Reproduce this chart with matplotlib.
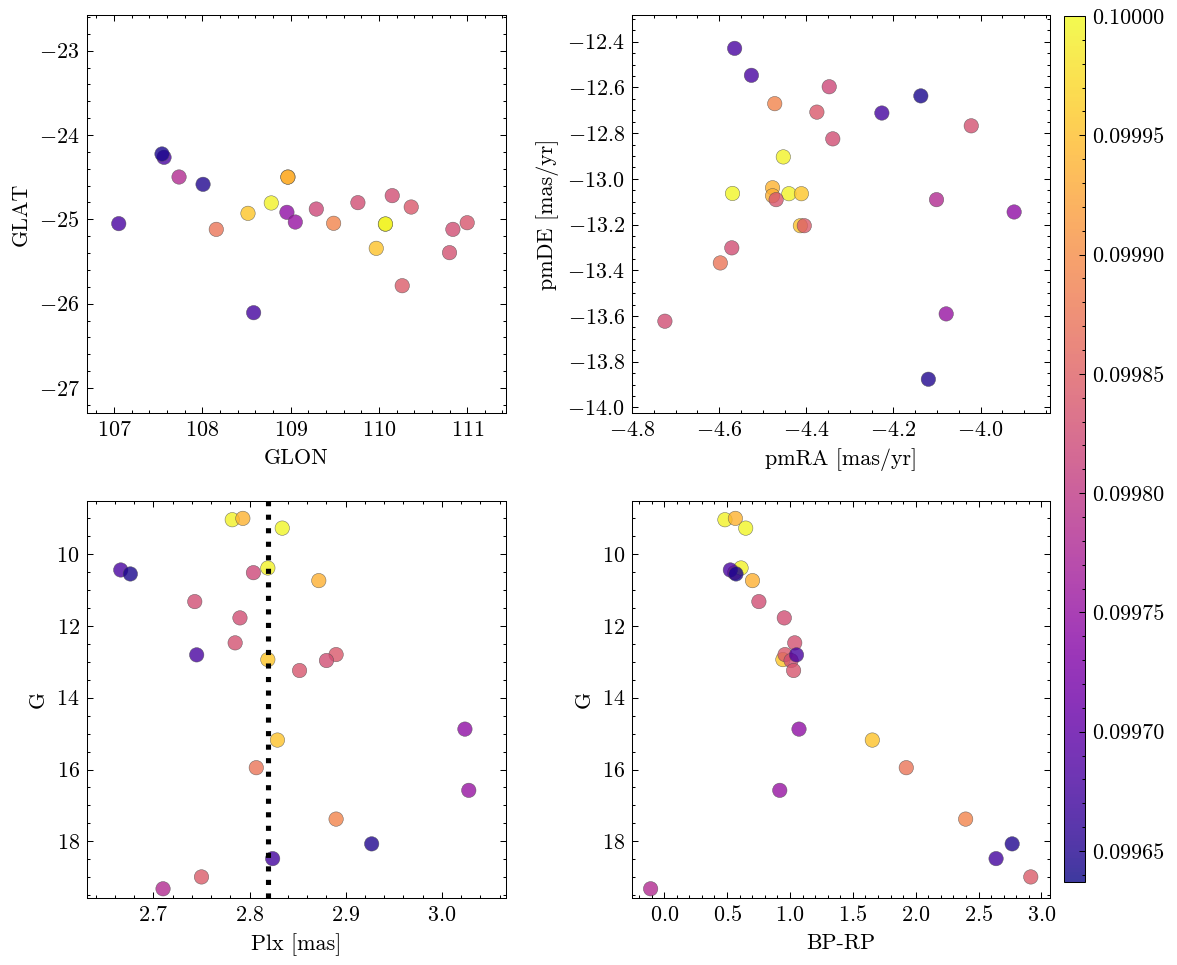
import matplotlib
matplotlib.use("Agg")
import matplotlib.pyplot as plt
from matplotlib.ticker import AutoMinorLocator, MultipleLocator, FormatStrFormatter

plt.rcParams.update({
    "font.family": "serif",
    "font.serif": ["cmr10"],
    "mathtext.fontset": "cm",
    "axes.formatter.use_mathtext": True,
    "axes.unicode_minus": True,
    "font.size": 10.8,
    "axes.linewidth": 0.5,
    "xtick.direction": "in",
    "ytick.direction": "in",
    "xtick.top": True,
    "ytick.right": True,
    "xtick.major.size": 3,
    "xtick.minor.size": 1.5,
    "ytick.major.size": 3,
    "ytick.minor.size": 1.5,
    "xtick.major.width": 0.5,
    "xtick.minor.width": 0.5,
    "ytick.major.width": 0.5,
    "ytick.minor.width": 0.5,
    "xtick.minor.visible": True,
    "ytick.minor.visible": True,
})

# ---- data (one entry per star) ----
glon = [109.291, 108.781, 108.970, 110.073, 110.075, 107.566, 107.543, 108.968,
        109.762, 110.151, 110.800, 108.517, 110.366, 110.838, 111.000, 107.053,
        108.958, 109.970, 108.158, 109.053, 109.487, 108.008, 108.581, 110.264,
        107.736]
glat = [-24.878, -24.806, -24.498, -25.057, -25.055, -24.265, -24.225, -24.500,
        -24.802, -24.719, -25.395, -24.929, -24.854, -25.119, -25.040, -25.051,
        -24.917, -25.344, -25.119, -25.032, -25.047, -24.585, -26.107, -25.787,
        -24.498]
pmra = [-4.3475, -4.4528, -4.4775, -4.5694, -4.4400, -4.5645, -4.1373, -4.4775,
        -4.3393, -4.5710, -4.0216, -4.4113, -4.3758, -4.7245, -4.4693, -4.5260,
        -3.9232, -4.4137, -4.5973, -4.0791, -4.4725, -4.1200, -4.2267, -4.4047,
        -4.1013]
pmde = [-12.597, -12.904, -13.039, -13.064, -13.065, -12.429, -12.637, -13.074,
        -12.825, -13.302, -12.768, -13.065, -12.708, -13.623, -13.091, -12.547,
        -13.145, -13.205, -13.368, -13.591, -12.671, -13.877, -12.712, -13.205,
        -13.091]
plx = [2.804, 2.782, 2.793, 2.834, 2.819, 2.666, 2.676, 2.872,
       2.743, 2.790, 2.785, 2.819, 2.890, 2.880, 2.852, 2.745,
       3.024, 2.829, 2.807, 3.028, 2.890, 2.927, 2.824, 2.750,
       2.710]
gmag = [10.52, 9.046, 9.009, 9.280, 10.39, 10.445, 10.556, 10.741,
        11.325, 11.779, 12.474, 12.940, 12.800, 12.966, 13.244, 12.808,
        14.875, 15.180, 15.949, 16.580, 17.380, 18.070, 18.480, 18.990,
        19.320]
bprp = [0.560, 0.483, 0.566, 0.648, 0.611, 0.526, 0.571, 0.702,
        0.753, 0.955, 1.038, 0.944, 0.961, 1.009, 1.029, 1.052,
        1.072, 1.655, 1.925, 0.919, 2.397, 2.767, 2.639, 2.915,
        -0.108]
prob = [0.099819, 0.099993, 0.099938, 0.099997, 0.099993, 0.099680, 0.099643, 0.099935,
        0.099826, 0.099826, 0.099830, 0.099955, 0.099840, 0.099826, 0.099836, 0.099680,
        0.099745, 0.099952, 0.099873, 0.099752, 0.099891, 0.099648, 0.099674, 0.099844,
        0.099782]
plx_ref = 2.8187
vmin, vmax = 0.099637, 0.100000

fig = plt.figure(figsize=(1177 / 147, 965 / 147), dpi=147)
W, H = 1177.0, 965.0

def add_ax(x0, y0, x1, y1):
    return fig.add_axes([x0 / W, 1 - y1 / H, (x1 - x0) / W, (y1 - y0) / H])

ax1 = add_ax(86.7, 15, 505.5, 413.3)
ax2 = add_ax(632.0, 15, 1050.4, 413.3)
ax3 = add_ax(86.7, 501, 505.5, 898.3)
ax4 = add_ax(632.0, 501, 1050.4, 898.3)
cax = add_ax(1064, 16, 1085, 882)

kw = dict(c=prob, cmap="plasma", vmin=vmin, vmax=vmax, s=50, alpha=0.8,
          edgecolors="0.3", linewidths=0.25)

sc = ax1.scatter(glon, glat, **kw)
ax1.set_xlim(106.69, 111.434)
ax1.set_ylim(-27.30, -22.577)
ax1.set_xlabel("GLON")
ax1.set_ylabel("GLAT")
ax1.xaxis.set_major_locator(MultipleLocator(1))
ax1.yaxis.set_major_locator(MultipleLocator(1))

ax2.scatter(pmra, pmde, **kw)
ax2.set_xlim(-4.80, -3.84)
ax2.set_ylim(-14.026, -12.283)
ax2.set_xlabel("pmRA [mas/yr]")
ax2.set_ylabel("pmDE [mas/yr]")
ax2.xaxis.set_major_locator(MultipleLocator(0.2))
ax2.yaxis.set_major_locator(MultipleLocator(0.2))

ax3.scatter(plx, gmag, **kw)
ax3.axvline(plx_ref, color="k", ls=":", lw=2.5)
ax3.set_xlim(2.6306, 3.0662)
ax3.set_ylim(19.585, 8.525)
ax3.set_xlabel("Plx [mas]")
ax3.set_ylabel("G")
ax3.xaxis.set_major_locator(MultipleLocator(0.1))
ax3.yaxis.set_major_locator(MultipleLocator(2))

ax4.scatter(bprp, gmag, **kw)
ax4.set_xlim(-0.256, 3.071)
ax4.set_ylim(19.585, 8.525)
ax4.set_xlabel("BP-RP")
ax4.set_ylabel("G")
ax4.xaxis.set_major_locator(MultipleLocator(0.5))
ax4.yaxis.set_major_locator(MultipleLocator(2))

for ax in (ax1, ax2, ax3, ax4):
    ax.xaxis.set_minor_locator(AutoMinorLocator())
    ax.yaxis.set_minor_locator(AutoMinorLocator())

cb = fig.colorbar(sc, cax=cax)
cb.solids.set_alpha(0.8)
cb.outline.set_linewidth(0.5)
cb.locator = MultipleLocator(0.00005)
cb.formatter = FormatStrFormatter("%.5f")
cb.update_ticks()
cax.yaxis.set_minor_locator(MultipleLocator(0.00001))
cax.tick_params(which="both", direction="in")

fig.savefig("out.png", dpi=147)
